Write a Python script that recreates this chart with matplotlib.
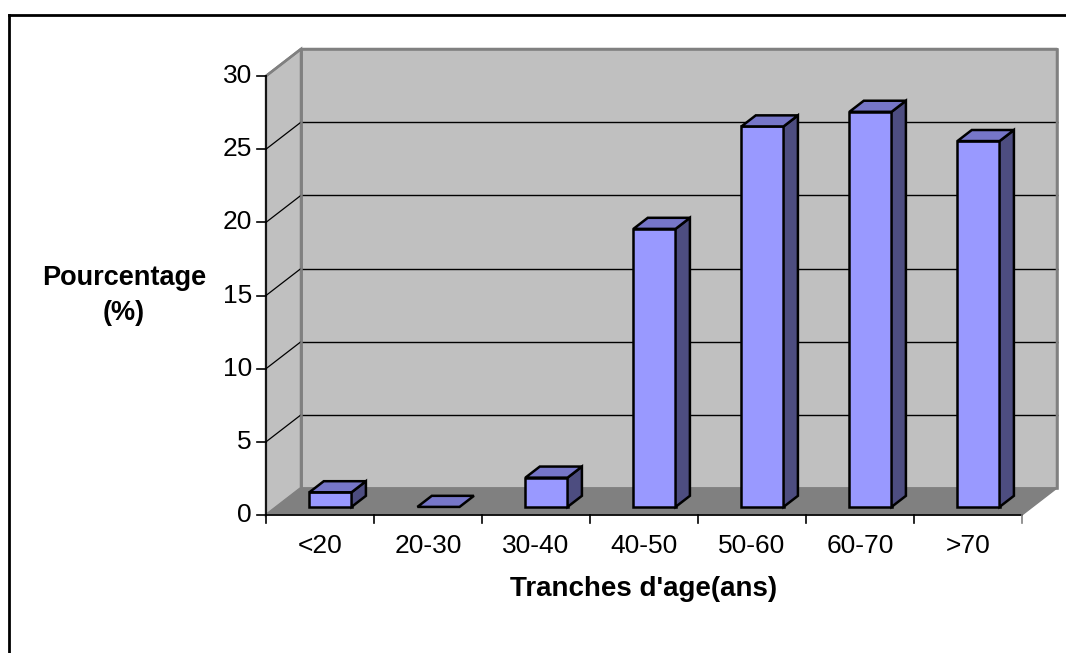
import matplotlib
matplotlib.use("Agg")
import matplotlib.pyplot as plt
from matplotlib.patches import Polygon
from matplotlib.lines import Line2D

# ---- data ----
categories = ["<20", "20-30", "30-40", "40-50", "50-60", "60-70", ">70"]
values = [1, 0, 2, 19, 26, 27, 25]
yticks = [0, 5, 10, 15, 20, 25, 30]
ylabel = "Pourcentage\n(%)"
xlabel = "Tranches d'age(ans)"

# ---- styling ----
FRONT = "#9999FF"
TOP = "#7676C8"
SIDE = "#4D4D80"
WALL = "#C0C0C0"
FLOOR = "#808080"
EDGE_GRAY = "#808080"

W, H = 1066, 653
fig = plt.figure(figsize=(W / 100, H / 100), dpi=100)
ax = fig.add_axes([0, 0, 1, 1])
ax.axis("off")

# pixel geometry of the front plane
X0_PX, PX_PER_CAT = 266, 108.0
Y0_PX, PX_PER_UNIT = 515, 439.0 / 30
n = len(categories)
ymax = yticks[-1]
ax.set_xlim(-X0_PX / PX_PER_CAT, (W - X0_PX) / PX_PER_CAT)
ax.set_ylim((Y0_PX - H) / PX_PER_UNIT, Y0_PX / PX_PER_UNIT)

def px_x(p):
    return p / PX_PER_CAT

def px_y(p):
    return p / PX_PER_UNIT

# depth offset in data units
DX, DY = px_x(35), px_y(27)

# back wall
ax.add_patch(Polygon([(DX, DY), (n + DX, DY), (n + DX, ymax + DY), (DX, ymax + DY)],
                     closed=True, facecolor=WALL, edgecolor=EDGE_GRAY, lw=1.8, zorder=1))
# left wall
ax.add_patch(Polygon([(0, 0), (DX, DY), (DX, ymax + DY), (0, ymax)],
                     closed=True, facecolor=WALL, edgecolor=EDGE_GRAY, lw=1.8, zorder=1))
# floor
ax.add_patch(Polygon([(0, 0), (n, 0), (n + DX, DY), (DX, DY)],
                     closed=True, facecolor=FLOOR, edgecolor=FLOOR, lw=1, zorder=1.5))

# gridlines
for v in yticks[1:-1]:
    ax.plot([DX, n + DX], [v + DY, v + DY], color="black", lw=1.0, zorder=2)
    ax.plot([0, DX], [v, v + DY], color="black", lw=0.9, zorder=2)
# redraw gray top/right edges
ax.plot([0, DX, n + DX, n + DX], [ymax, ymax + DY, ymax + DY, DY], color=EDGE_GRAY, lw=1.8, zorder=2.1)
ax.plot([DX, DX], [DY, ymax + DY], color=EDGE_GRAY, lw=1.8, zorder=2.1)

# bars
F0, FD = 0.30, 0.41
BW = 0.39
for i, v in enumerate(values):
    x0 = i + 0.5 - BW / 2 + F0 * DX
    y0 = F0 * DY
    ddx, ddy = FD * DX, FD * DY
    if v > 0:
        ax.add_patch(Polygon([(x0, y0), (x0 + BW, y0), (x0 + BW, y0 + v), (x0, y0 + v)],
                             closed=True, facecolor=FRONT, edgecolor="black", lw=1.8,
                             joinstyle="miter", zorder=3))
        ax.add_patch(Polygon([(x0 + BW, y0), (x0 + BW + ddx, y0 + ddy),
                              (x0 + BW + ddx, y0 + v + ddy), (x0 + BW, y0 + v)],
                             closed=True, facecolor=SIDE, edgecolor="black", lw=1.8,
                             joinstyle="miter", zorder=3))
    ax.add_patch(Polygon([(x0, y0 + v), (x0 + BW, y0 + v),
                          (x0 + BW + ddx, y0 + v + ddy), (x0 + ddx, y0 + v + ddy)],
                         closed=True, facecolor=TOP, edgecolor="black", lw=1.8,
                         joinstyle="miter", zorder=3))

# axes lines
ax.plot([0, 0], [0, ymax], color="black", lw=1.2, zorder=4)
ax.plot([0, n], [0, 0], color="black", lw=1.2, zorder=4)
for v in yticks:
    ax.plot([-px_x(9), 0], [v, v], color="black", lw=1.2, zorder=4)
    ax.text(-px_x(14), v, str(v), ha="right", va="center", fontsize=19,
            family="Liberation Sans", zorder=5)
for i in range(n + 1):
    ax.plot([i, i], [0, -px_y(8)], color="black" if i < n else EDGE_GRAY, lw=1.2, zorder=4)
for i, c in enumerate(categories):
    ax.text(i + 0.5, -px_y(31), c, ha="center", va="center", fontsize=19,
            family="Liberation Sans", zorder=5)

ax.text(px_x(124 - X0_PX), px_y(Y0_PX - 295), ylabel, ha="center", va="center",
        fontsize=19.5, fontweight="bold", family="Liberation Sans", linespacing=1.45)
ax.text(n / 2, -px_y(74), xlabel, ha="center", va="center",
        fontsize=20, fontweight="bold", family="Liberation Sans")

# outer frame (extends past right/bottom edges)
fx, fy = 9 / W, 1 - 15 / H
fig.add_artist(Line2D([fx, 1.01], [fy, fy], transform=fig.transFigure, color="black", lw=2))
fig.add_artist(Line2D([fx, fx], [-0.01, fy], transform=fig.transFigure, color="black", lw=2))

fig.savefig("out.png", dpi=100)
